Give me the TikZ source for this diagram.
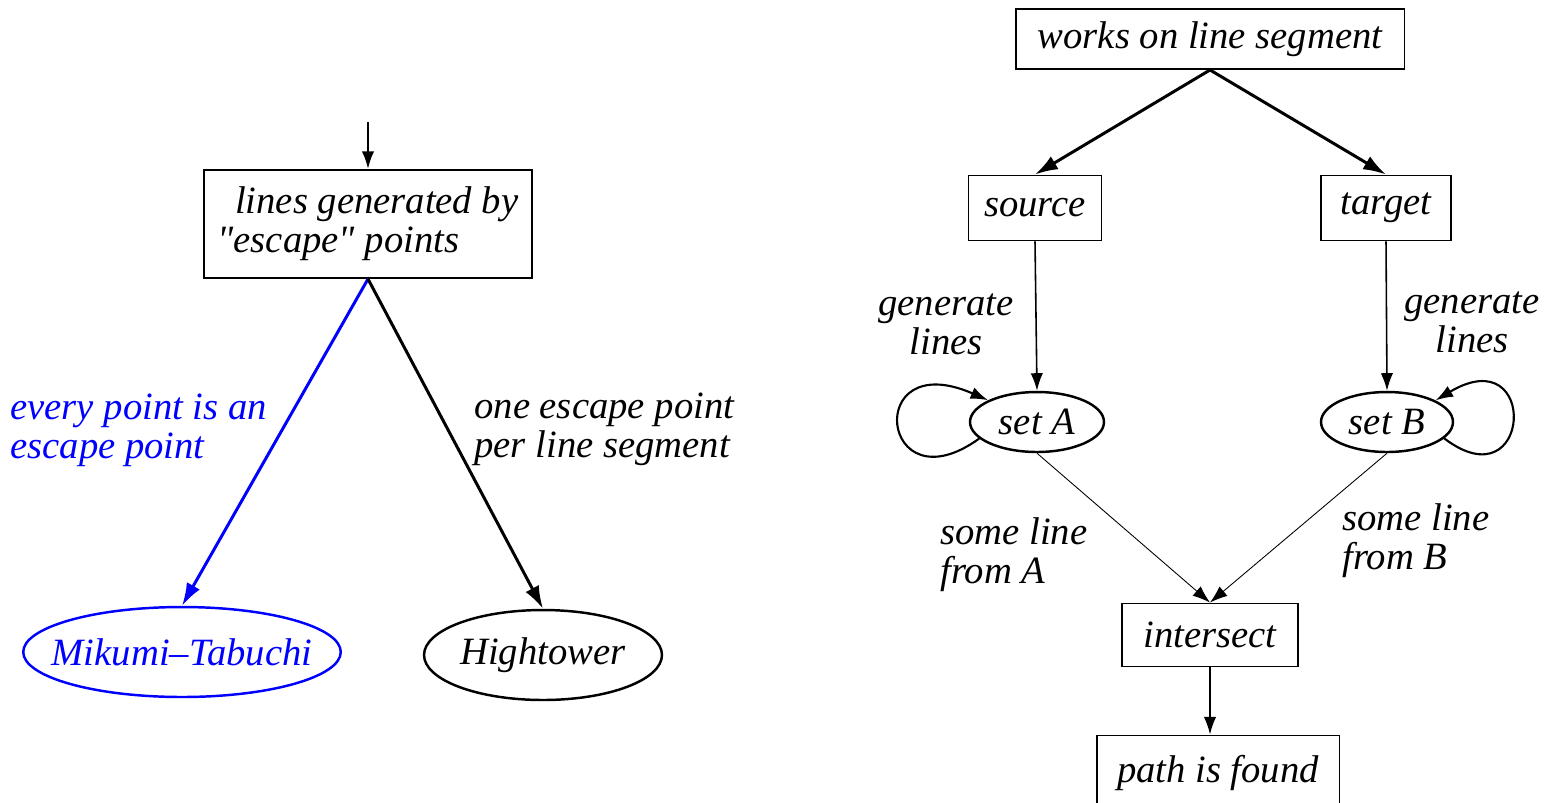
\documentclass[tikz,border=0pt]{standalone}
\usepackage{fontspec}
\setmainfont{Liberation Serif}
\usetikzlibrary{shapes.geometric,arrows.meta}

\tikzset{
  box/.style={draw, line width=1.1pt, inner sep=0pt, align=left},
  oval/.style={draw, ellipse, line width=1.4pt, inner sep=0pt},
  lbl/.style={align=left, inner sep=0pt},
  small head/.style={>={Latex[length=10pt,width=7pt]}},
}

\begin{document}
\begin{tikzpicture}[x=0.02cm, y=-0.02cm, font=\fontsize{22}{22}\selectfont\itshape,
    >={Latex[length=13pt,width=8.5pt]}]
  \clip (0,0) rectangle (1544,802);

  % left: escape points
  \coordinate (in) at (368,122);
  \node[box, minimum width=6.56cm, minimum height=2.16cm] (lines) at (368,224) {\hspace*{10pt}lines generated by\\\textquotedbl escape\textquotedbl\ points};
  \node[oval, blue, inner xsep=-0.36cm, minimum width=6.32cm, minimum height=1.8cm] (mikumi) at (182,652) {Mikumi--Tabuchi};
  \node[oval, minimum width=4.76cm, minimum height=1.8cm] (hightower) at (543,655) {Hightower};

  \draw[->, line width=1.3pt, small head] (in) -- (lines.north);
  \draw[->, line width=1.7pt, blue] (lines.south) -- (mikumi.north);
  \draw[->, line width=1.7pt] (lines.south) -- (hightower.north);

  \node[lbl, blue, anchor=west] at (10,430) {every point is an\\escape point};
  \node[lbl, anchor=west] at (474,429) {one escape point\\per line segment};

  % right: line segment search
  \node[box, minimum width=7.78cm, minimum height=1.2cm] (works) at (1210,39) {works on line segment};
  \node[box, minimum width=2.66cm, minimum height=1.3cm] (source) at (1035,208) {source};
  \node[box, minimum width=2.6cm, minimum height=1.3cm] (target) at (1386,208) {target};
  \node[oval, minimum width=2.68cm, minimum height=1.2cm] (setA) at (1037,422) {set A};
  \node[oval, minimum width=2.64cm, minimum height=1.2cm] (setB) at (1387,422) {set B};
  \node[box, minimum width=3.52cm, minimum height=1.26cm] (intersect) at (1210,635) {intersect};
  \node[box, minimum width=4.86cm, minimum height=1.5cm] (found) at (1218,773) {path is found};

  \draw[->, line width=1.7pt] (works.south) -- (source.north);
  \draw[->, line width=1.7pt] (works.south) -- (target.north);
  \draw[->, line width=0.9pt, small head] (source.south) -- (setA.north);
  \draw[->, line width=0.9pt, small head] (target.south) -- (setB.north);
  \draw[->, line width=1.2pt, small head] (setA.196) .. controls (880,510) and (862,345) .. (setA.156);
  \draw[->, line width=1.2pt, small head] (setB.-16) .. controls (1532,505) and (1540,338) .. (setB.24);
  \draw[->, line width=0.5pt, small head] (setA.south) -- (intersect.north);
  \draw[->, line width=0.5pt, small head] (setB.south) -- (intersect.north);
  \draw[->, line width=0.9pt, small head] (intersect.south) -- (intersect.south |- found.north);

  \node[align=center, inner sep=0pt] at (946,324) {generate\\lines};
  \node[align=center, inner sep=0pt] at (1472,322) {generate\\lines};
  \node[lbl, anchor=west] at (940,555) {some line\\from A};
  \node[lbl, anchor=west] at (1342,541) {some line\\from B};

\end{tikzpicture}
\end{document}
